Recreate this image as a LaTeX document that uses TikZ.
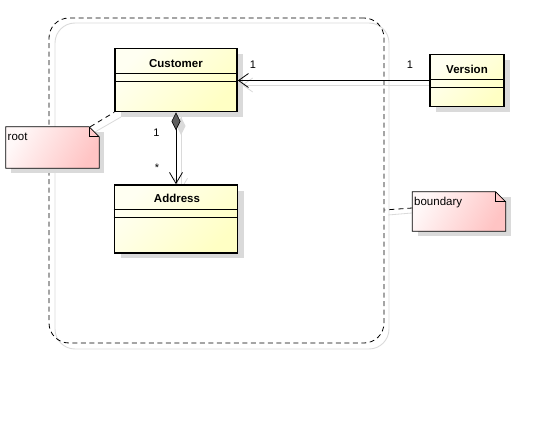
\documentclass[tikz,border=0pt]{standalone}
\usepackage{fontspec}
\setmainfont{Liberation Sans}
\usetikzlibrary{arrows.meta,calc}
\definecolor{ylight}{RGB}{255,255,242}
\definecolor{ydark}{RGB}{255,255,196}
\definecolor{plight}{RGB}{255,248,248}
\definecolor{pdark}{RGB}{255,196,196}
\definecolor{shadowgray}{RGB}{218,218,218}
\definecolor{diamondgray}{RGB}{95,95,95}
\tikzset{
  x=1pt, y=-1pt,
  classbox/.style={draw=black, line width=1.6pt, inner sep=0pt,
    top color=ylight, bottom color=ydark, shading angle=45},
  classshadow/.style={fill=shadowgray, draw=none},
  titletext/.style={font=\fontsize{11.5}{13}\selectfont\bfseries, inner sep=0pt},
  notetext/.style={font=\fontsize{11.5}{13}\selectfont, inner sep=0pt, anchor=west},
  multtext/.style={font=\fontsize{11}{13}\selectfont, inner sep=0pt},
  notefill/.style={draw=black, line width=0.8pt, top color=plight, bottom color=pdark, shading angle=60},
  conn/.style={draw=black, line width=0.8pt},
  connshadow/.style={draw=shadowgray, line width=0.8pt},
  openhead/.style={-{Straight Barb[length=10pt,width=14pt,line width=0.8pt]}},
  notelink/.style={draw=black, line width=0.8pt, dash pattern=on 5pt off 4pt},
  boundarybox/.style={draw=black, line width=0.8pt, dash pattern=on 5pt off 3.5pt, rounded corners=20pt}
}
\begin{document}
\begin{tikzpicture}
\useasboundingbox (0,0) rectangle (550,425);
% boundary region
\draw[draw=shadowgray, line width=0.9pt, rounded corners=20pt] (55,23) rectangle (389,349);
\node[boundarybox, minimum width=335pt, minimum height=325pt, inner sep=0pt] (bnd) at (216.5,180.5) {};

% shadows of classes
\fill[classshadow] (121,54) rectangle (243,117);
\fill[classshadow] (121,191) rectangle (244,258);
\fill[classshadow] (436,60) rectangle (510,112);

% shadow connectors
\draw[connshadow, -{Straight Barb[length=10pt,width=14pt,line width=0.8pt]}] (436,85) -- (242,85);
\draw[connshadow, -{Straight Barb[length=11pt,width=13pt,line width=0.8pt]}] (181,117) -- (181,190);
\fill[shadowgray] (181,117) -- (185.5,126) -- (181,135) -- (176.5,126) -- cycle;
\draw[connshadow] (95,132) -- (121,117);
\draw[connshadow] (388,215) -- (412,213);

% classes
\node[classbox, minimum width=122pt, minimum height=63pt] (cust) at (176,80) {};
\node[titletext] (custt) at (176,63.5) {Customer};
\draw[line width=0.8pt] (cust.west |- 0,73) -- (cust.east |- 0,73);
\draw[line width=0.8pt] (cust.west |- 0,81) -- (cust.east |- 0,81);

\node[classbox, minimum width=123pt, minimum height=68pt] (addr) at (176,219) {};
\node[titletext] (addrt) at (177,198.5) {Address};
\draw[line width=0.8pt] (addr.west |- 0,209) -- (addr.east |- 0,209);
\draw[line width=0.8pt] (addr.west |- 0,217) -- (addr.east |- 0,217);

\node[classbox, minimum width=74pt, minimum height=52pt] (vers) at (467,80.5) {};
\node[titletext] (verst) at (467,69.5) {Version};
\draw[line width=0.8pt] (vers.west |- 0,79.5) -- (vers.east |- 0,79.5);
\draw[line width=0.8pt] (vers.west |- 0,87.5) -- (vers.east |- 0,87.5);

% association Version -> Customer
\draw[conn, openhead] (vers.west |- 0,80.5) -- (cust.east |- 0,80.5);
\node[multtext] (m1) at (253,65) {1};
\node[multtext] (m2) at (410,65) {1};

% composition Customer <>-> Address
\draw[conn, {Diamond[length=18pt,width=9pt,fill=diamondgray,line width=0.6pt]}-{Straight Barb[length=11pt,width=13pt,line width=0.8pt]}] (cust.south) -- (addr.north);
\node[multtext] (m3) at (156.5,133) {1};
\node[multtext] (m4) at (157,168) {*};

% root note
\fill[shadowgray] (11,132) rectangle (104,173);
\node[inner sep=0pt, minimum width=93pt, minimum height=41pt] (root) at (52.5,147.5) {};
\path[notefill] (root.north west) -- ($(root.north east)+(-10,0)$) -- ($(root.north east)+(0,10)$) -- (root.south east) -- (root.south west) -- cycle;
\draw[line width=0.8pt] ($(root.north east)+(-10,0)$) -- ($(root.north east)+(-10,10)$) -- ($(root.north east)+(0,10)$);
\node[notetext] (roott) at (7.5,136.5) {root};
\draw[notelink] ($(root.north east)+(-9,0)$) -- (cust.south west);

% boundary note
\fill[shadowgray] (418,197) rectangle (511,236);
\node[inner sep=0pt, minimum width=93pt, minimum height=39pt] (bnote) at (459,211.5) {};
\path[notefill] (bnote.north west) -- ($(bnote.north east)+(-10,0)$) -- ($(bnote.north east)+(0,10)$) -- (bnote.south east) -- (bnote.south west) -- cycle;
\draw[line width=0.8pt] ($(bnote.north east)+(-10,0)$) -- ($(bnote.north east)+(-10,10)$) -- ($(bnote.north east)+(0,10)$);
\node[notetext] (bnotet) at (414,202.5) {boundary};
\draw[notelink] (bnote.west |- 0,208) -- (bnd.east |- 0,210);
\end{tikzpicture}
\end{document}
